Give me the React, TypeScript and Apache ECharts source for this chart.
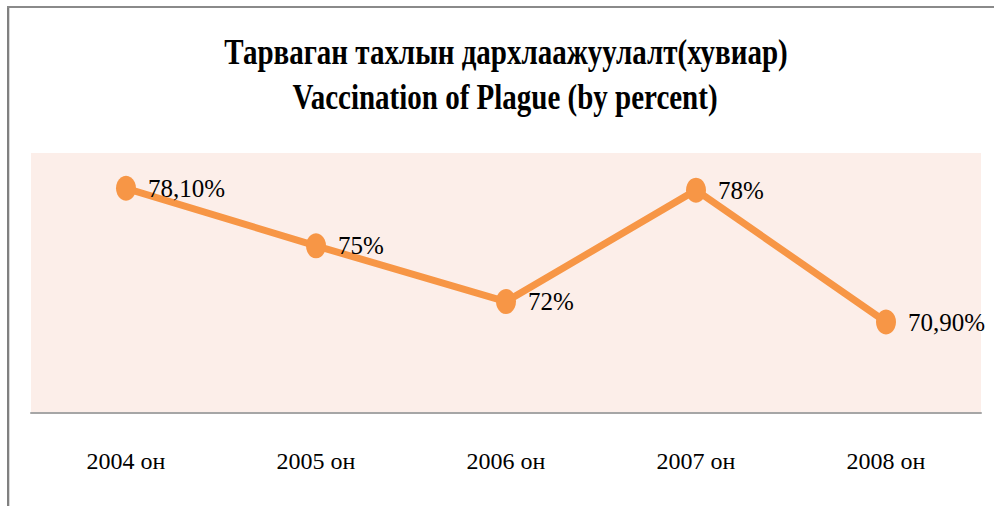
import React, { useEffect, useRef } from "react";
import * as echarts from "echarts";

const categories = ["2004 он", "2005 он", "2006 он", "2007 он", "2008 он"];
const values = [78.1, 75, 72, 78, 70.9];
const valueLabels = ["78,10%", "75%", "72%", "78%", "70,90%"];
const titleLines = [
  "Тарваган тахлын дархлаажуулалт(хувиар)",
  "Vaccination of Plague (by percent)",
];

const SERIF = "'Liberation Serif', 'Times New Roman', serif";

export default function App() {
  const ref = useRef<HTMLDivElement>(null);
  useEffect(() => {
    if (!ref.current) return;
    const chart = echarts.init(ref.current, undefined, { renderer: "svg" });
    chart.setOption({
      animation: false,
      backgroundColor: "#ffffff",
      grid: {
        left: 31,
        right: 13,
        top: 153,
        bottom: 93,
        show: true,
        backgroundColor: "#FCEEE9",
        borderWidth: 0,
      },
      xAxis: {
        type: "category",
        data: categories,
        boundaryGap: true,
        axisTick: { show: false },
        axisLine: { lineStyle: { color: "#A6A6A6", width: 2 } },
        axisLabel: {
          color: "#000",
          fontFamily: SERIF,
          fontSize: 24,
          margin: 36,
        },
      },
      yAxis: {
        type: "value",
        min: 66,
        max: 80,
        show: false,
        splitLine: { show: false },
      },
      graphic: [
        {
          type: "rect",
          shape: { x: 7, y: 6, width: 2, height: 500 },
          style: { fill: "#808080" },
          silent: true,
        },
        {
          type: "rect",
          shape: { x: 7, y: 6, width: 987, height: 2 },
          style: { fill: "#8a8a8a" },
          silent: true,
        },
        {
          type: "rect",
          shape: { x: 9, y: 8, width: 1, height: 498 },
          style: { fill: "#d9d9d9" },
          silent: true,
        },
        {
          type: "text",
          x: 506,
          y: 52,
          scaleY: 1.2,
          style: {
            text: titleLines[0],
            fontFamily: SERIF,
            fontWeight: "bold",
            fontSize: 29,
            fill: "#000",
            textAlign: "center",
            textVerticalAlign: "middle",
          },
        },
        {
          type: "text",
          x: 505,
          y: 97,
          scaleY: 1.2,
          style: {
            text: titleLines[1],
            fontFamily: SERIF,
            fontWeight: "bold",
            fontSize: 29,
            fill: "#000",
            textAlign: "center",
            textVerticalAlign: "middle",
          },
        },
      ],
      series: [
        {
          type: "line",
          data: values,
          symbol: "circle",
          symbolSize: [20, 25],
          lineStyle: { color: "#F79646", width: 7 },
          itemStyle: { color: "#F79646" },
          label: {
            show: true,
            position: "right",
            distance: 12,
            color: "#000",
            fontFamily: SERIF,
            fontSize: 25,
            formatter: (p: any) => valueLabels[p.dataIndex],
          },
        },
      ],
    });
    return () => chart.dispose();
  }, []);
  return (
    <div
      ref={ref}
      style={{ position: "fixed", left: 0, top: 0, width: 994, height: 506 }}
    />
  );
}
